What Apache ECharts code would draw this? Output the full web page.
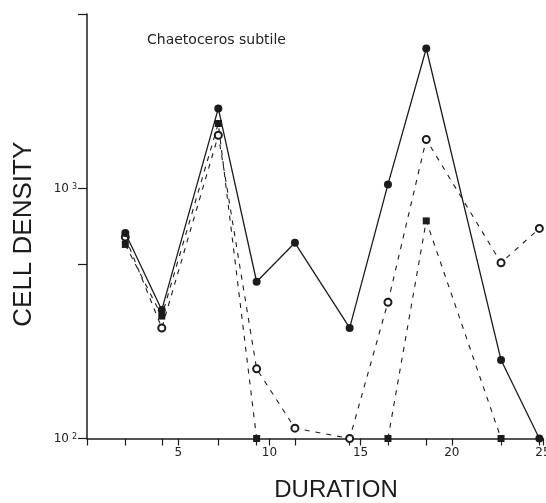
<!DOCTYPE html>
<html>
<head>
<meta charset="utf-8">
<script src="https://cdn.jsdelivr.net/npm/echarts@6/dist/echarts.min.js"></script>
<style>
  html, body { margin: 0; padding: 0; background: #fff; }
  #chart { width: 546px; height: 503px; }
</style>
</head>
<body>
<div id="chart"></div>
<script>
// sampling days
const days = [2.1, 4.1, 7.2, 9.3, 11.4, 14.4, 16.5, 18.6, 22.7, 24.8]
// filled circles, solid line
const filledCircle = [665, 327, 2094, 424, 607, 277, 1040, 3638, 206, 100]
// filled squares, dashed line (null = no point)
const filledSquare = [598, 309, 1823, 100, null, null, 100, 743, 100, null]
// open circles, dashed line
const openCircle = [640, 277, 1636, 190, 110, 100, 351, 1573, 505, 693]
const xMajorTicks = [0, 5, 10, 15, 20, 25]
const yTickValues = [100, 500, 1000, 5000]

const ink = '#1c1c1c'
const pairs = arr => days.map((d, i) => [d, arr[i] == null ? '-' : arr[i]])
const xTickValues = xMajorTicks.concat(days).sort((a, b) => a - b)

const chart = echarts.init(document.getElementById('chart'), null, { renderer: 'canvas' })
chart.setOption({
  animation: false,
  backgroundColor: '#fff',
  title: {
    text: 'Chaetoceros subtile',
    left: 142,
    top: 28,
    textStyle: { fontFamily: 'DejaVu Sans', fontSize: 14, fontWeight: 'normal', color: '#222' }
  },
  grid: { left: 87, right: 3, top: 14, bottom: 64.5, outerBoundsMode: 'none' },
  xAxis: {
    type: 'value',
    position: 'bottom',
    min: 0,
    max: 25,
    interval: 5,
    name: 'DURATION',
    nameLocation: 'middle',
    nameGap: 40,
    nameTextStyle: { fontFamily: 'Liberation Sans', fontSize: 24, color: ink, padding: [0, 0, 0, 42] },
    axisLine: { show: true, lineStyle: { color: ink, width: 1.5 } },
    axisTick: { show: true, customValues: xTickValues, length: 7, lineStyle: { color: ink, width: 1.2 } },
    axisLabel: {
      margin: 8,
      fontFamily: 'DejaVu Sans',
      fontSize: 12,
      color: '#222',
      formatter: v => (v === 0 ? '' : String(v))
    },
    splitLine: { show: false }
  },
  yAxis: {
    type: 'log',
    logBase: 10,
    min: 100,
    max: 5000,
    name: 'CELL DENSITY',
    nameLocation: 'middle',
    nameGap: 50,
    nameTextStyle: { fontFamily: 'Liberation Sans', fontSize: 26, color: ink, padding: [0, 16, 0, 0] },
    axisLine: { show: true, lineStyle: { color: ink, width: 1.5 } },
    axisTick: { show: true, customValues: yTickValues, length: 9, lineStyle: { color: ink, width: 1.2 } },
    axisLabel: {
      margin: 10,
      formatter: v => {
        const e = Math.round(Math.log10(v))
        if (Math.abs(Math.log10(v) - e) > 0.01 || e > 3) return ''
        return '{b|10}{s|' + e + '}'
      },
      rich: {
        b: { fontFamily: 'DejaVu Sans', fontSize: 12, color: '#222' },
        s: { fontFamily: 'DejaVu Sans', fontSize: 8, color: '#222', verticalAlign: 'top', padding: [0, 0, 0, 3] }
      }
    },
    splitLine: { show: false }
  },
  series: [{
    name: 'open circles',
    type: 'line',
    data: pairs(openCircle),
    symbol: 'emptyCircle',
    symbolSize: 7,
    itemStyle: { color: ink, borderWidth: 1.1 },
    lineStyle: { color: ink, width: 1.1, type: [5, 6] },
    z: 2
  }, {
    name: 'filled squares',
    type: 'line',
    data: pairs(filledSquare),
    symbol: 'rect',
    symbolSize: 7,
    itemStyle: { color: ink },
    lineStyle: { color: ink, width: 1.1, type: [5, 6] },
    z: 3
  }, {
    name: 'filled circles',
    type: 'line',
    data: pairs(filledCircle),
    symbol: 'circle',
    symbolSize: 8,
    itemStyle: { color: ink },
    lineStyle: { color: ink, width: 1.3 },
    z: 4
  }]
})
</script>
</body>
</html>
